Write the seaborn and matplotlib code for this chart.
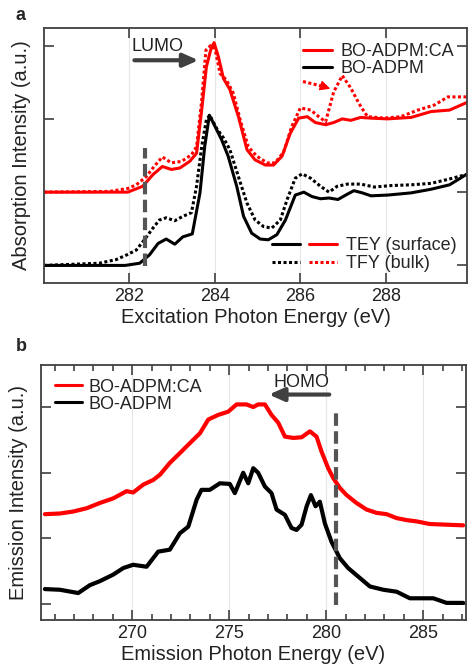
import matplotlib
matplotlib.use("Agg")
import matplotlib.pyplot as plt
import seaborn as sns
from matplotlib.lines import Line2D
from matplotlib.legend_handler import HandlerTuple

# ---- panel a: XAS (offset units) ----
tey_black_x = [280.0, 281.9, 282.24, 282.47, 282.67, 282.86, 283.06, 283.25, 283.47, 283.65, 283.76, 283.87,
               284.0, 284.16, 284.31, 284.51, 284.67, 284.86, 285.06, 285.25, 285.45, 285.65, 285.88, 286.08,
               286.27, 286.47, 286.67, 286.88, 287.06, 287.25, 287.45, 287.65, 288.04, 288.59, 289.06, 289.49, 289.88]
tey_black_y = [0.0, 0.0, 0.03, 0.145, 0.30, 0.36, 0.29, 0.39, 0.43, 0.99, 1.62, 2.05,
               1.9, 1.71, 1.49, 1.08, 0.67, 0.44, 0.36, 0.35, 0.42, 0.62, 0.96, 1.0,
               0.94, 0.91, 0.92, 0.9, 0.96, 1.02, 0.99, 0.95, 0.96, 0.99, 1.04, 1.1, 1.24]

tfy_black_x = [280.0, 281.29, 281.69, 281.96, 282.16, 282.35, 282.55, 282.7, 282.86, 283.06, 283.25, 283.45,
               283.57, 283.69, 283.8, 283.88, 284.04, 284.2, 284.35, 284.55, 284.75, 284.94, 285.14, 285.33,
               285.53, 285.69, 285.88, 286.04, 286.24, 286.47, 286.67, 286.86, 287.1, 287.41, 287.73, 288.12,
               288.59, 289.06, 289.49, 289.88]
tfy_black_y = [0.0, 0.03, 0.08, 0.15, 0.21, 0.35, 0.51, 0.62, 0.65, 0.61, 0.67, 0.72,
               1.08, 1.62, 1.99, 2.05, 1.87, 1.74, 1.58, 1.21, 0.85, 0.62, 0.53, 0.51,
               0.62, 0.9, 1.19, 1.25, 1.19, 1.08, 1.0, 1.08, 1.11, 1.11, 1.07, 1.09,
               1.1, 1.12, 1.18, 1.24]

tey_red_x = [280.0, 281.96, 282.31, 282.55, 282.77, 282.98, 283.18, 283.41, 283.57, 283.69, 283.8, 283.9,
             283.98, 284.08, 284.2, 284.35, 284.55, 284.75, 284.94, 285.18, 285.37, 285.57, 285.76, 285.96,
             286.16, 286.35, 286.59, 286.78, 286.98, 287.18, 287.41, 287.65, 288.04, 288.59, 289.06, 289.49, 289.88]
tey_red_y = [1.0, 1.0, 1.08, 1.24, 1.35, 1.31, 1.33, 1.42, 1.53, 2.12, 2.71, 2.94,
             3.04, 2.85, 2.55, 2.4, 2.03, 1.58, 1.44, 1.37, 1.37, 1.49, 1.8, 2.01,
             2.03, 1.95, 1.92, 1.95, 2.0, 1.98, 2.02, 2.01, 2.0, 2.02, 2.1, 2.12, 2.22]

tfy_red_x = [280.0, 281.53, 281.96, 282.16, 282.39, 282.59, 282.77, 282.98, 283.22, 283.45, 283.57, 283.69,
             283.79, 283.9, 284.0, 284.12, 284.27, 284.43, 284.59, 284.78, 284.98, 285.22, 285.41, 285.61,
             285.8, 286.0, 286.24, 286.43, 286.59, 286.78, 286.98, 287.18, 287.37, 287.57, 287.96, 288.35,
             288.75, 289.14, 289.45, 289.88]
tfy_red_y = [1.0, 1.01, 1.05, 1.1, 1.21, 1.36, 1.48, 1.4, 1.42, 1.51, 1.62, 2.25,
             2.94, 3.0, 2.96, 2.62, 2.53, 2.35, 1.99, 1.62, 1.49, 1.4, 1.4, 1.55,
             1.9, 2.15, 2.12, 2.03, 1.96, 2.37, 2.59, 2.42, 2.21, 2.03, 2.01, 2.03,
             2.12, 2.19, 2.3, 2.3]

# ---- panel b: XES ----
xes_black_x = [265.5, 266.27, 267.22, 267.82, 268.33, 269.02, 269.54, 270.05, 270.74, 271.34, 271.94, 272.46,
               272.89, 273.32, 273.57, 274.0, 274.52, 275.03, 275.29, 275.72, 275.98, 276.24, 276.49, 276.84,
               277.18, 277.44, 277.87, 278.21, 278.47, 278.73, 278.99, 279.21, 279.45, 279.67, 279.93, 280.27,
               280.7, 281.13, 281.65, 282.25, 282.94, 283.63, 284.31, 285.09, 285.52, 286.2, 287.06]
xes_black_y = [0.23, 0.22, 0.17, 0.29, 0.35, 0.45, 0.55, 0.6, 0.57, 0.8, 0.83, 1.08,
               1.18, 1.59, 1.74, 1.74, 1.84, 1.83, 1.69, 2.0, 1.84, 2.07, 2.0, 1.79,
               1.69, 1.44, 1.36, 1.16, 1.13, 1.21, 1.49, 1.66, 1.49, 1.56, 1.23, 0.95,
               0.7, 0.55, 0.42, 0.27, 0.22, 0.19, 0.09, 0.09, 0.09, 0.02, 0.02]

xes_red_x = [265.5, 266.27, 266.96, 267.65, 268.33, 269.02, 269.71, 270.05, 270.57, 271.08, 271.43, 271.94,
             272.46, 272.97, 273.49, 273.92, 274.43, 274.95, 275.38, 275.89, 276.24, 276.49, 276.84, 277.18,
             277.53, 277.87, 278.3, 278.73, 279.16, 279.5, 279.76, 280.1, 280.36, 280.7, 281.05, 281.56,
             282.08, 282.59, 283.11, 283.63, 284.14, 284.66, 285.34, 286.2, 287.06]
xes_red_y = [1.37, 1.38, 1.41, 1.46, 1.54, 1.61, 1.72, 1.7, 1.82, 1.89, 1.97, 2.15,
             2.3, 2.45, 2.6, 2.81, 2.88, 2.93, 3.04, 3.04, 3.0, 3.04, 3.04, 2.88,
             2.76, 2.55, 2.53, 2.54, 2.63, 2.55, 2.32, 2.07, 1.92, 1.77, 1.66, 1.54,
             1.44, 1.39, 1.37, 1.31, 1.28, 1.26, 1.22, 1.21, 1.2]

sns.set_style("ticks")
plt.rcParams["font.family"] = ["Liberation Sans", "DejaVu Sans"]
plt.rcParams["axes.edgecolor"] = "#404040"
plt.rcParams["axes.linewidth"] = 1.3

RED = "#ff0000"
GRAY = "#555555"
DOT = (0, (1, 0.8))

fig = plt.figure(figsize=(4.68, 6.67), dpi=100)
ax1 = fig.add_axes([0.094, 0.5757, 0.904, 0.3823])
ax2 = fig.add_axes([0.0876, 0.0705, 0.908, 0.3823])

# panel a
sns.lineplot(x=tfy_black_x, y=tfy_black_y, ax=ax1, color="black", lw=2.2, linestyle=DOT)
sns.lineplot(x=tey_black_x, y=tey_black_y, ax=ax1, color="black", lw=2.2)
sns.lineplot(x=tfy_red_x, y=tfy_red_y, ax=ax1, color=RED, lw=2.2, linestyle=DOT)
sns.lineplot(x=tey_red_x, y=tey_red_y, ax=ax1, color=RED, lw=2.2)
ax1.plot([282.37, 282.37], [-0.01, 1.6], color=GRAY, lw=3, linestyle=(0, (3, 1.3)))
ax1.annotate("", xy=(283.68, 2.8), xytext=(282.05, 2.8),
             arrowprops=dict(arrowstyle="-|>,head_length=0.9,head_width=0.4", color="#404040", lw=3))
ax1.text(282.65, 2.99, "LUMO", ha="center", va="center", fontsize=13, color="#222222")
ax1.plot([286.06, 286.62], [2.51, 2.43], color=RED, lw=2.2, linestyle=DOT)
ax1.annotate("", xy=(286.76, 2.4), xytext=(286.55, 2.44),
             arrowprops=dict(arrowstyle="-|>,head_length=0.6,head_width=0.3", color=RED, lw=1))

ax1.set_xlim(280.0, 289.9)
ax1.set_ylim(-0.24, 3.24)
ax1.set_xticks([282, 284, 286, 288])
ax1.set_yticks([0, 1, 2, 3])
ax1.set_yticklabels([])
ax1.grid(axis="x", color="#e6e6e6", lw=0.8)
ax1.tick_params(direction="in", top=True, right=True, length=7, width=1.2, labelsize=13,
                colors="#404040", labelcolor="#222222")
ax1.set_xlabel("Excitation Photon Energy (eV)", fontsize=14.5, color="#222222", labelpad=2)
ax1.set_ylabel("Absorption Intensity (a.u.)", fontsize=14.5, color="#222222", labelpad=6)

h_ca = Line2D([], [], color=RED, lw=2.2)
h_bo = Line2D([], [], color="black", lw=2.2)
leg1 = ax1.legend([h_ca, h_bo], ["BO-ADPM:CA", "BO-ADPM"], loc="upper right", frameon=False,
                  fontsize=13, handlelength=1.6, handletextpad=0.5, labelspacing=0.0,
                  borderaxespad=0.3, bbox_to_anchor=(1.0, 0.99))
ax1.add_artist(leg1)
h_tey = (Line2D([], [], color="black", lw=2.2), Line2D([], [], color=RED, lw=2.2))
h_tfy = (Line2D([], [], color="black", lw=2.2, linestyle=DOT), Line2D([], [], color=RED, lw=2.2, linestyle=DOT))
ax1.legend([h_tey, h_tfy], ["TEY (surface)", "TFY (bulk)"], loc="lower right", frameon=False,
           fontsize=13, handlelength=3.6, handletextpad=0.5, labelspacing=0.05, borderaxespad=0.2,
           handler_map={tuple: HandlerTuple(ndivide=None, pad=0.5)})
fig.text(0.034, 0.977, "a", fontsize=13, fontweight="bold", va="center")

# panel b
sns.lineplot(x=xes_red_x, y=xes_red_y, ax=ax2, color=RED, lw=3.0)
sns.lineplot(x=xes_black_x, y=xes_black_y, ax=ax2, color="black", lw=3.0)
ax2.plot([280.5, 280.5], [-0.01, 2.91], color=GRAY, lw=3, linestyle=(0, (3, 1.3)))
ax2.annotate("", xy=(276.9, 3.19), xytext=(280.3, 3.19),
             arrowprops=dict(arrowstyle="-|>,head_length=0.9,head_width=0.4", color="#404040", lw=3))
ax2.text(278.7, 3.38, "HOMO", ha="center", va="center", fontsize=13, color="#222222")

ax2.set_xlim(265.3, 287.2)
ax2.set_ylim(-0.24, 3.64)
ax2.set_xticks([270, 275, 280, 285])
ax2.set_xticks(range(266, 288), minor=True)
ax2.set_yticks([0, 1, 2, 3])
ax2.set_yticklabels([])
ax2.grid(axis="x", which="major", color="#e6e6e6", lw=0.8)
ax2.tick_params(which="both", direction="in", top=True, right=True, width=1.2, labelsize=13,
                colors="#404040", labelcolor="#222222")
ax2.tick_params(which="major", length=7)
ax2.tick_params(which="minor", length=4)
ax2.set_xlabel("Emission Photon Energy (eV)", fontsize=14.5, color="#222222", labelpad=2)
ax2.set_ylabel("Emission Intensity (a.u.)", fontsize=14.5, color="#222222", labelpad=6)
ax2.legend([Line2D([], [], color=RED, lw=2.2), Line2D([], [], color="black", lw=2.2)],
           ["BO-ADPM:CA", "BO-ADPM"], loc="upper left", frameon=False, fontsize=13,
           handlelength=1.5, handletextpad=0.4, labelspacing=0.0, borderaxespad=0.35)
fig.text(0.034, 0.481, "b", fontsize=13, fontweight="bold", va="center")

fig.savefig("out.png", dpi=100)
